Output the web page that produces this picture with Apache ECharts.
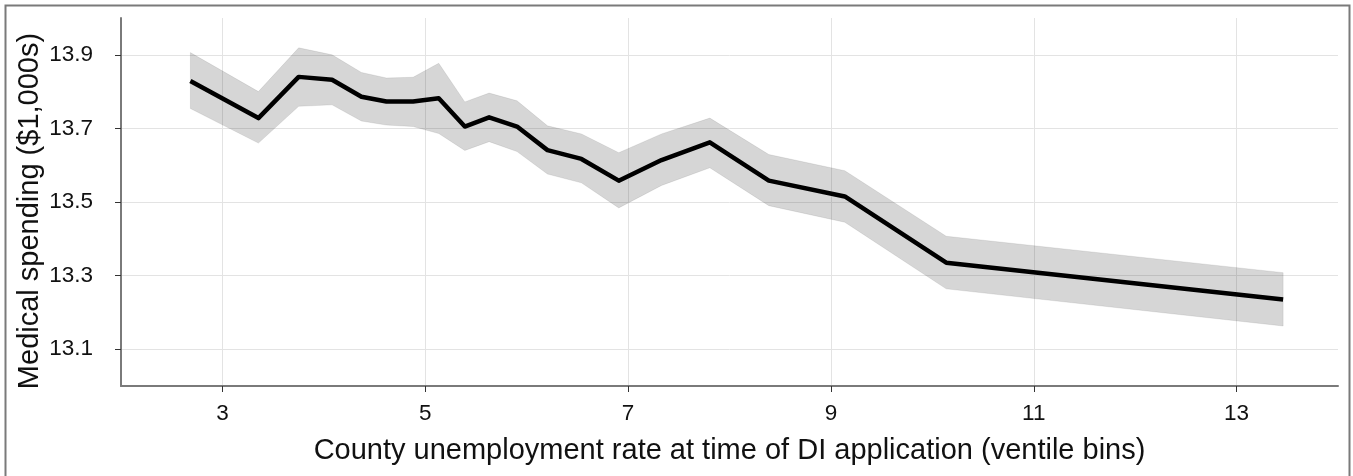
<!DOCTYPE html>
<html>
<head>
<meta charset="utf-8">
<script src="https://cdn.jsdelivr.net/npm/echarts@6/dist/echarts.min.js"></script>
<style>
html,body{margin:0;padding:0;background:#fff;}
#chart{width:1353px;height:476px;}
</style>
</head>
<body>
<div id="chart"></div>
<script>
// Ventile bin means of county unemployment rate (x) and medical spending (y, $1,000s)
const unemploymentRate = [2.684, 3.355, 3.752, 4.081, 4.371, 4.617, 4.880, 5.133, 5.390, 5.630,
                          5.905, 6.205, 6.540, 6.908, 7.330, 7.806, 8.388, 9.137, 10.137, 13.459];
const spending        = [13.829, 13.728, 13.840, 13.832, 13.786, 13.773, 13.773, 13.782, 13.705, 13.730,
                         13.705, 13.641, 13.617, 13.558, 13.614, 13.662, 13.558, 13.515, 13.335, 13.235];
const ciUpper         = [13.906, 13.800, 13.919, 13.900, 13.852, 13.837, 13.839, 13.877, 13.772, 13.796,
                         13.775, 13.707, 13.685, 13.634, 13.685, 13.728, 13.629, 13.585, 13.407, 13.308];
const ciLower         = [13.754, 13.660, 13.760, 13.764, 13.720, 13.709, 13.705, 13.686, 13.640, 13.664,
                         13.637, 13.576, 13.552, 13.484, 13.545, 13.593, 13.490, 13.445, 13.264, 13.163];
const xTicks = [3, 5, 7, 9, 11, 13];
const yTicks = [13.1, 13.3, 13.5, 13.7, 13.9];

const lineData = unemploymentRate.map((x, i) => [x, spending[i]]);

const chart = echarts.init(document.getElementById('chart'), null, {renderer: 'canvas'});
const font = 'Liberation Sans, Arial, Helvetica, sans-serif';
const axisGray = '#7a7a7a';

chart.setOption({
  animation: false,
  backgroundColor: '#fff',
  graphic: [{
    type: 'rect',
    shape: {x: 5.5, y: 5.5, width: 1344, height: 490},
    style: {fill: 'none', stroke: '#7a7a7a', lineWidth: 2},
    silent: true,
    z: 100
  }],
  grid: {left: 121, right: 15, top: 18, bottom: 90, containLabel: false},
  xAxis: {
    type: 'value',
    min: 2, max: 14,
    name: 'County unemployment rate at time of DI application (ventile bins)',
    nameLocation: 'middle',
    nameGap: 50,
    nameMoveOverlap: false,
    nameTextStyle: {fontFamily: font, fontSize: 29, color: '#111'},
    axisLine: {show: true, onZero: false, lineStyle: {color: axisGray, width: 2}},
    axisTick: {show: true, length: 6, customValues: xTicks, lineStyle: {color: '#333', width: 1}},
    axisLabel: {customValues: xTicks, margin: 16, fontFamily: font, fontSize: 22.5, color: '#111'},
    splitLine: {show: true, lineStyle: {color: '#e3e3e3', width: 1}}
  },
  yAxis: {
    type: 'value',
    min: 13.0, max: 14.0,
    name: 'Medical spending ($1,000s)',
    nameLocation: 'middle',
    nameGap: 77,
    nameMoveOverlap: false,
    nameTextStyle: {fontFamily: font, fontSize: 29, color: '#111', padding: [0, 18, 0, 0]},
    axisLine: {show: true, onZero: false, lineStyle: {color: axisGray, width: 2}},
    axisTick: {show: true, length: 6, customValues: yTicks, lineStyle: {color: '#333', width: 1}},
    axisLabel: {customValues: yTicks, margin: 28, fontFamily: font, fontSize: 22.5, color: '#111',
                formatter: v => Number(v).toFixed(1)},
    splitLine: {show: true, lineStyle: {color: '#e3e3e3', width: 1}}
  },
  series: [
    {
      type: 'custom',
      data: [[unemploymentRate[0], spending[0]]],
      clip: true,
      z: 2,
      renderItem: function (params, api) {
        const pts = [];
        for (let i = 0; i < unemploymentRate.length; i++) pts.push(api.coord([unemploymentRate[i], ciUpper[i]]));
        for (let i = unemploymentRate.length - 1; i >= 0; i--) pts.push(api.coord([unemploymentRate[i], ciLower[i]]));
        return {
          type: 'polygon',
          shape: {points: pts},
          style: {fill: 'rgba(51,51,51,0.2)', stroke: 'rgba(0,0,0,0.08)', lineWidth: 1}
        };
      }
    },
    {
      type: 'line',
      data: lineData,
      showSymbol: false,
      symbol: 'none',
      z: 3,
      lineStyle: {color: '#000', width: 4.5, join: 'round'}
    }
  ]
});
</script>
</body>
</html>
